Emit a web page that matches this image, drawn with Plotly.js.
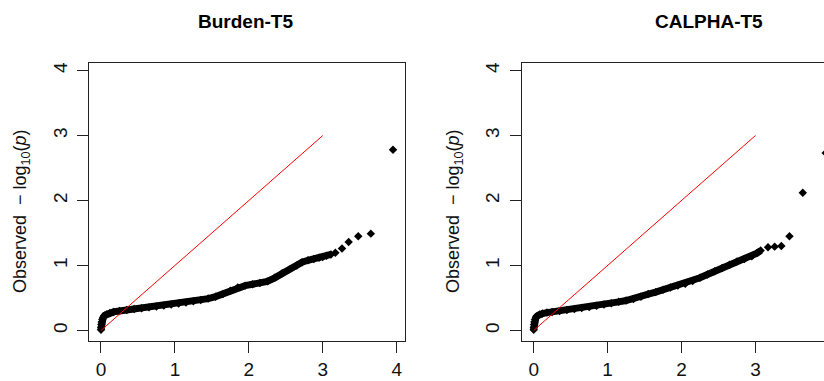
<!DOCTYPE html>
<html>
<head>
<meta charset="utf-8">
<script src="https://cdn.plot.ly/plotly-3.0.1.min.js"></script>
<style>
html, body { margin: 0; padding: 0; overflow: hidden; background: #fff; }
#chart { width: 900px; height: 381px; }
</style>
</head>
<body>
<div id="chart"></div>
<script>
// ---- Data ----
const panelTitles = ["Burden-T5", "CALPHA-T5"];
const tickValues = [0, 1, 2, 3, 4];
const tickLabels = ["0", "1", "2", "3", "4"];

// Expected -log10(p) vs observed -log10(p), Burden-T5
const burdenExpected = [0.000, 0.002, 0.005, 0.010, 0.018, 0.030, 0.050, 0.08, 0.12, 0.17,
  0.25, 0.35, 0.45, 0.55, 0.65, 0.75, 0.85, 0.95, 1.05, 1.15,
  1.25, 1.35, 1.45, 1.55, 1.65, 1.75, 1.85, 1.95, 2.05, 2.15,
  2.25, 2.35, 2.45, 2.55, 2.65, 2.72, 2.80, 2.88, 2.95, 3.00,
  3.05, 3.11, 3.17, 3.26, 3.35, 3.48, 3.65, 3.95];
const burdenObserved = [0.01, 0.05, 0.09, 0.13, 0.17, 0.20, 0.23, 0.25, 0.27, 0.285,
  0.30, 0.315, 0.33, 0.34, 0.355, 0.37, 0.385, 0.40, 0.415, 0.43,
  0.45, 0.47, 0.49, 0.52, 0.56, 0.61, 0.66, 0.69, 0.71, 0.73,
  0.755, 0.81, 0.88, 0.94, 1.00, 1.05, 1.08, 1.10, 1.12, 1.13,
  1.15, 1.17, 1.195, 1.26, 1.36, 1.45, 1.49, 2.78];

// Expected -log10(p) vs observed -log10(p), CALPHA-T5
const calphaExpected = [0.000, 0.002, 0.005, 0.010, 0.018, 0.030, 0.05, 0.08, 0.12, 0.18,
  0.25, 0.35, 0.45, 0.55, 0.65, 0.75, 0.85, 0.95, 1.05, 1.15,
  1.25, 1.35, 1.45, 1.55, 1.65, 1.75, 1.85, 1.95, 2.05, 2.15,
  2.25, 2.35, 2.45, 2.55, 2.65, 2.75, 2.85, 2.95, 3.02, 3.07,
  3.17, 3.26, 3.35, 3.46, 3.64, 3.95];
const calphaObserved = [0.01, 0.05, 0.09, 0.13, 0.17, 0.20, 0.225, 0.245, 0.26, 0.275,
  0.285, 0.30, 0.315, 0.33, 0.345, 0.36, 0.38, 0.40, 0.42, 0.44,
  0.46, 0.485, 0.52, 0.56, 0.59, 0.625, 0.66, 0.69, 0.72, 0.76,
  0.81, 0.86, 0.91, 0.96, 1.01, 1.06, 1.10, 1.14, 1.19, 1.23,
  1.28, 1.29, 1.30, 1.45, 2.12, 2.73];

// y = x reference segment
const refX = [0, 3];
const refY = [0, 3];

// ---- Drawing ----
const W = 900, H = 381;
const px = v => v / W;
const py = v => 1 - v / H;

function denseSplit(xs, ys, cut) {
  const dx = [], dy = [];
  xs.forEach((x, i) => { if (x <= cut) { dx.push(x); dy.push(ys[i]); } });
  return {x: dx, y: dy};
}

function panelTraces(xs, ys, cut, xa, ya) {
  const d = denseSplit(xs, ys, cut);
  return [
    {x: d.x, y: d.y, xaxis: xa, yaxis: ya, type: 'scatter', mode: 'lines',
     line: {color: '#000', width: 7}, hoverinfo: 'skip', showlegend: false},
    {x: xs, y: ys, xaxis: xa, yaxis: ya, type: 'scatter', mode: 'markers',
     marker: {symbol: 'diamond', size: 6.5, color: '#000', line: {width: 0}},
     hoverinfo: 'skip', showlegend: false},
    {x: refX, y: refY, xaxis: xa, yaxis: ya, type: 'scatter', mode: 'lines',
     line: {color: '#ff0000', width: 1}, hoverinfo: 'skip', showlegend: false}
  ];
}

const data = [].concat(
  panelTraces(burdenExpected, burdenObserved, 3.12, 'x', 'y'),
  panelTraces(calphaExpected, calphaObserved, 3.08, 'x2', 'y2')
);

const tickFont = {family: 'Liberation Sans Narrow, Liberation Sans, Arial, sans-serif', size: 19, color: '#111'};
const axisCommon = {
  tickmode: 'array', tickvals: tickValues, ticktext: tickLabels,
  ticks: 'outside', ticklen: 11, tickwidth: 1, tickcolor: '#222',
  showgrid: false, zeroline: false, showline: true, linecolor: '#222', linewidth: 1,
  mirror: true, tickfont: tickFont, fixedrange: true
};

const yDomain = [py(340.7), py(63.3)];
const yRange = [-0.158, 4.112];

const layout = {
  width: W, height: H,
  margin: {l: 0, r: 0, t: 0, b: 0, pad: 0},
  paper_bgcolor: '#fff', plot_bgcolor: '#fff',
  showlegend: false,
  xaxis: Object.assign({}, axisCommon, {domain: [px(89.3), px(405)], range: [-0.158, 4.112], anchor: 'y'}),
  yaxis: Object.assign({}, axisCommon, {domain: yDomain, range: yRange, anchor: 'x', tickangle: -90, ticklabelstandoff: 3}),
  xaxis2: Object.assign({}, axisCommon, {domain: [px(522), px(896)], range: [-0.158, 4.901], anchor: 'y2'}),
  yaxis2: Object.assign({}, axisCommon, {domain: yDomain, range: yRange, anchor: 'x2', tickangle: -90, ticklabelstandoff: 3}),
  annotations: [
    {text: panelTitles[0], xref: 'paper', yref: 'paper', x: px(246), y: py(21),
     xanchor: 'center', yanchor: 'middle', showarrow: false,
     font: {family: 'Liberation Sans, Arial, sans-serif', size: 19, weight: 'bold', color: '#000'}},
    {text: panelTitles[1], xref: 'paper', yref: 'paper', x: px(709), y: py(21),
     xanchor: 'center', yanchor: 'middle', showarrow: false,
     font: {family: 'Liberation Sans, Arial, sans-serif', size: 19, weight: 'bold', color: '#000'}},
    {text: 'Observed  \u2212 log<sub>10</sub>(<i>p</i>)', xref: 'paper', yref: 'paper',
     x: px(21), y: py(211), xanchor: 'center', yanchor: 'middle', textangle: -90, showarrow: false,
     font: {family: 'Liberation Sans, Arial, sans-serif', size: 18, color: '#111'}},
    {text: 'Observed  \u2212 log<sub>10</sub>(<i>p</i>)', xref: 'paper', yref: 'paper',
     x: px(454), y: py(211), xanchor: 'center', yanchor: 'middle', textangle: -90, showarrow: false,
     font: {family: 'Liberation Sans, Arial, sans-serif', size: 18, color: '#111'}}
  ]
};

Plotly.newPlot('chart', data, layout, {staticPlot: true, displayModeBar: false});
</script>
</body>
</html>
